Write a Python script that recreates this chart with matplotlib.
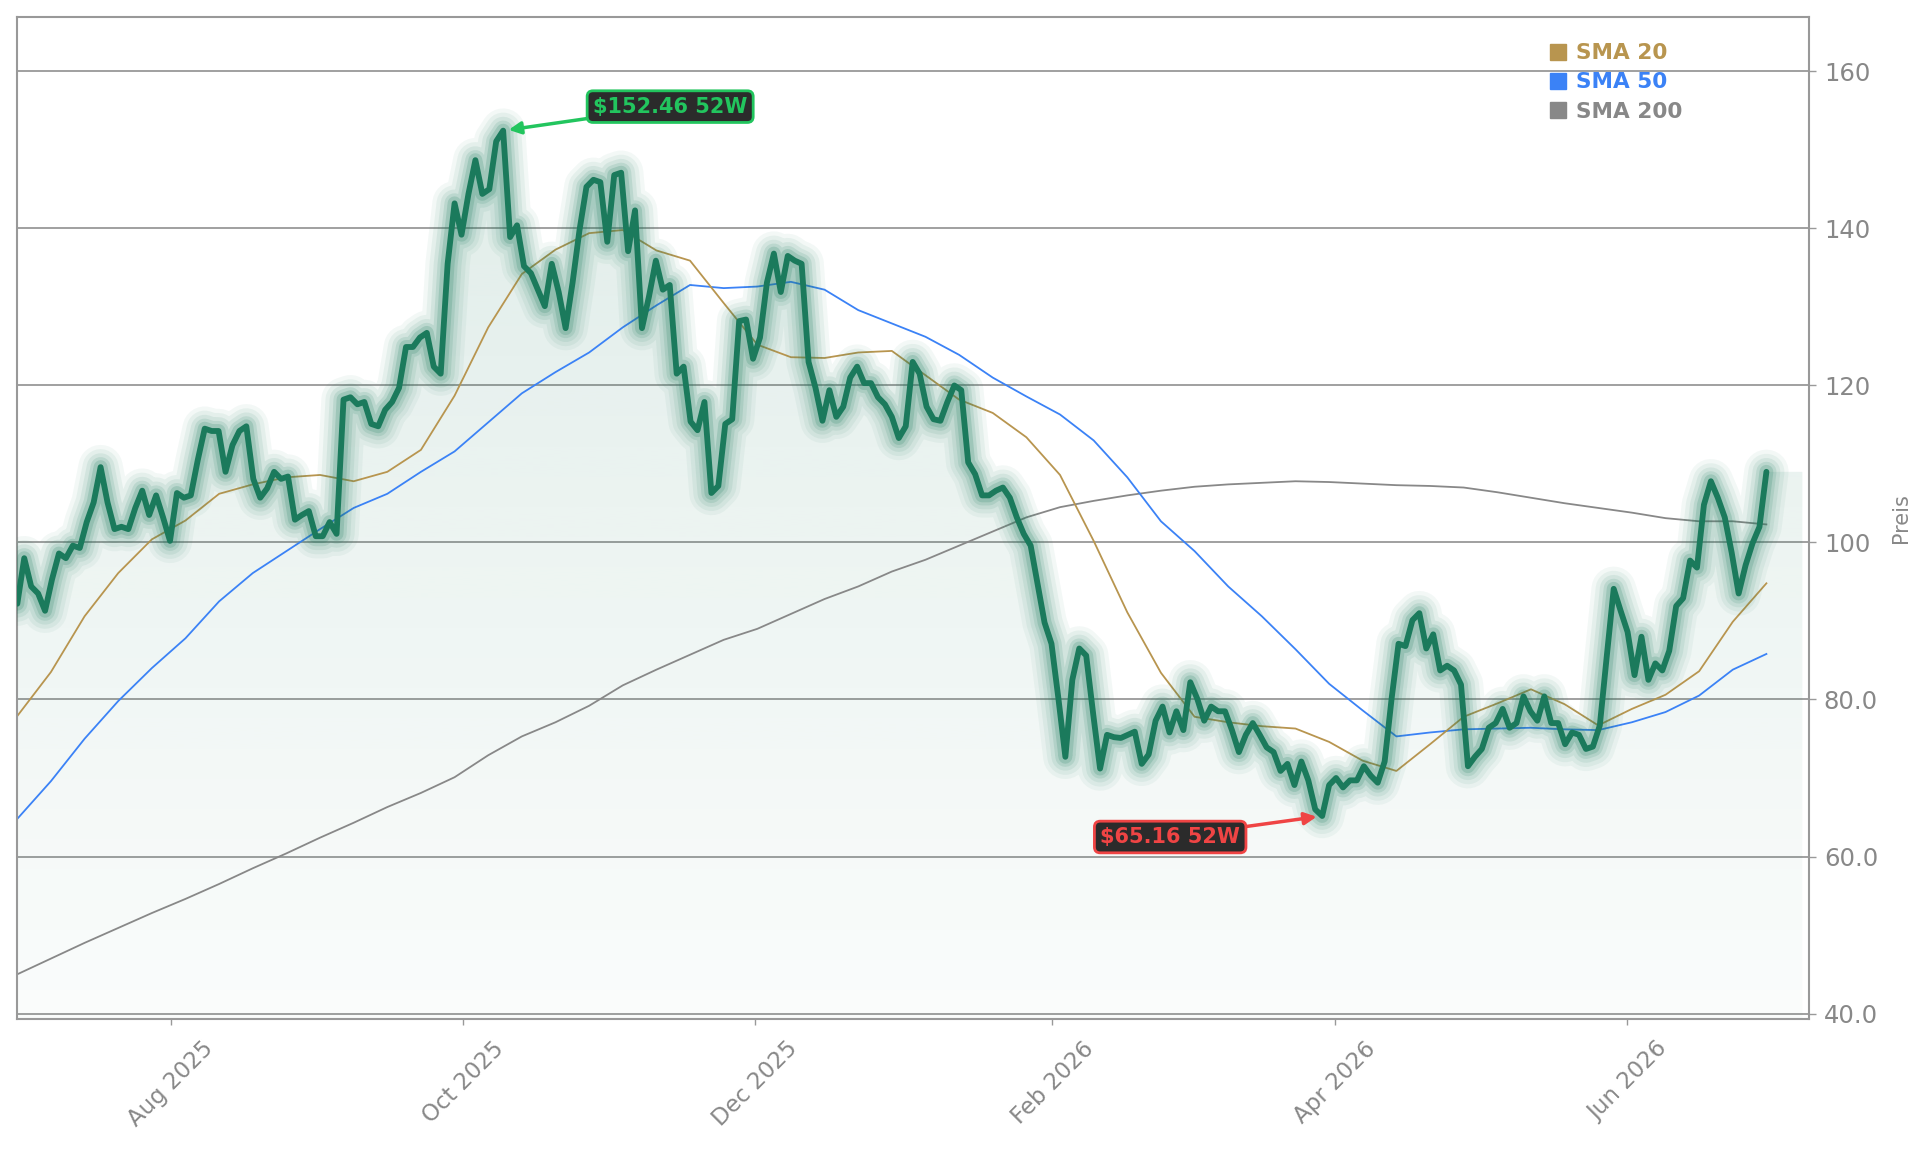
import numpy as np
import pandas as pd
import matplotlib
matplotlib.use("Agg")
import matplotlib.pyplot as plt
import matplotlib.dates as mdates
from matplotlib.lines import Line2D
from matplotlib.patches import Polygon
from matplotlib.colors import to_rgb

# ---------------- data ----------------
price = [
    92.2, 98.0, 94.4, 93.5, 91.3, 95.3, 98.6, 98.0, 99.6, 99.3, 102.6, 105.1, 109.6, 105.1,
    101.7, 102.0, 101.7, 104.4, 106.6, 103.5, 106.0, 103.2, 100.2, 106.3, 105.7, 106.0, 110.5,
    114.5, 114.2, 114.2, 109.0, 112.4, 114.2, 114.8, 108.1, 105.7, 106.9, 109.0, 108.1, 108.4,
    102.9, 103.5,
    104.0, 100.8, 100.8, 102.6, 101.1, 118.2, 118.5, 117.6, 117.9, 115.1, 114.8, 116.9, 117.9,
    119.7, 124.9, 124.9, 126.1, 126.7, 122.4, 121.5, 135.5, 143.2, 139.2, 144.4, 148.7, 144.4,
    145.0, 151.1, 152.46, 138.9, 140.4, 135.2, 134.3, 132.2, 130.1, 135.5, 131.9, 127.3, 133.1,
    139.8, 145.3, 146.2,
    145.9, 138.3, 146.8, 147.1, 137.1, 142.3, 127.3, 131.3, 135.9, 132.2, 132.8, 121.5, 122.4,
    115.4, 114.3, 117.9, 106.3, 107.2, 115.1, 115.7, 128.2, 128.4, 123.4, 126.1, 133.1, 136.8,
    131.9, 136.5, 135.9, 135.5, 123.0, 119.7, 115.5, 119.4, 116.0, 117.3, 121.0, 122.4, 120.3,
    120.3, 118.5, 117.6, 116.0,
    113.3, 114.8, 123.0, 121.5, 117.3, 115.7, 115.5, 117.9, 120.0, 119.4, 110.2, 108.7, 106.0,
    106.0, 106.6, 107.0, 105.7, 103.2, 101.1, 99.6, 94.7, 89.8, 87.1, 80.1, 72.7, 82.5, 86.5,
    85.6, 78.2, 71.2, 75.5, 75.2, 75.1, 75.5, 75.9, 71.8, 73.0, 77.3, 79.1, 75.8, 78.5, 76.1,
    82.2, 80.1, 77.3, 79.1, 78.5, 78.5, 76.1, 73.3, 75.5, 77.0, 75.5, 73.9, 73.3, 70.9, 71.8,
    69.1, 72.1, 69.7, 66.0, 65.16, 69.1, 70.0, 68.8, 69.7, 69.7, 71.5, 70.3, 69.4, 72.1, 80.1,
    87.1, 86.8, 90.1, 91.0, 86.5, 88.3, 83.7, 84.3, 83.7, 81.9, 71.5, 72.7, 73.7, 76.4, 77.0,
    78.8, 76.4, 77.0, 80.4, 78.5, 77.3, 80.4, 77.0, 77.0, 74.3, 75.8, 75.5, 73.7, 74.0, 76.7,
    85.5, 94.1, 91.3, 88.6, 83.1, 88.0, 82.5, 84.6, 83.7, 86.2, 91.9, 92.9, 97.7, 96.8, 104.8,
    107.8, 105.7, 103.2, 98.7, 93.5, 97.1, 99.9, 102.0, 109.0,
]
start_date = "2025-06-30"
end_date = "2026-06-30"

sma20 = [77.9, 83.5, 90.6, 96.1, 100.4, 102.8, 106.2, 107.4, 108.3, 108.6, 107.8, 109.0, 111.8,
         118.7, 127.4, 134.2, 137.3, 139.4, 139.8, 137.2, 135.9, 130.5, 125.2, 123.6, 123.5,
         124.2, 124.4, 121.3, 118.2, 116.5, 113.4, 108.6, 100.2, 91.1, 83.4, 77.8, 77.1, 76.6,
         76.3, 74.6, 72.2, 70.9, 74.3, 77.8, 79.5, 81.3, 79.4, 76.7, 78.8, 80.6, 83.6, 89.9, 94.8]
sma50 = [64.8, 69.6, 75.0, 79.8, 84.0, 87.8, 92.5, 96.1, 98.9, 101.7, 104.4, 106.2, 109.0,
         111.6, 115.3, 119.0, 121.7, 124.2, 127.4, 130.2, 132.8, 132.4, 132.6, 133.2, 132.2,
         129.6, 127.9, 126.2, 123.9, 121.0, 118.6, 116.3, 113.0, 108.3, 102.7, 98.9, 94.4, 90.6,
         86.4, 82.0, 78.6, 75.3, 75.8, 76.2, 76.3, 76.4, 76.2, 76.1, 77.1, 78.4, 80.5, 83.8, 85.8]
sma200 = [45.0, 47.0, 49.0, 50.9, 52.8, 54.6, 56.5, 58.5, 60.4, 62.4, 64.3, 66.3, 68.1, 70.1,
          72.9, 75.3, 77.1, 79.2, 81.8, 83.8, 85.7, 87.6, 89.0, 90.9, 92.8, 94.4, 96.3, 97.8,
          99.6, 101.4, 103.2, 104.5, 105.3, 106.0, 106.6, 107.1, 107.4, 107.6, 107.8, 107.7,
          107.5, 107.3, 107.2, 107.0, 106.4, 105.7, 105.0, 104.4, 103.8, 103.1, 102.7, 102.7, 102.3]

legend_labels = ["SMA 20", "SMA 50", "SMA 200"]
ytick_values = [40, 60, 80, 100, 120, 140, 160]
ytick_labels = ["40.0", "60.0", "80.0", "100", "120", "140", "160"]
xtick_dates = ["2025-08-01", "2025-10-01", "2025-12-01", "2026-02-01", "2026-04-01", "2026-06-01"]
xtick_labels = ["Aug 2025", "Oct 2025", "Dec 2025", "Feb 2026", "Apr 2026", "Jun 2026"]
high_label = "$152.46 52W"
low_label = "$65.16 52W"
y_label = "Preis"

# ---------------- style ----------------
GREEN = "#1b7a5c"
GOLD = "#b8954f"
BLUE = "#3b82f6"
GRAY = "#888888"
HI = "#22c55e"
LO = "#ef4444"
AXC = "#999999"

price_dates = pd.date_range(start_date, end_date, periods=len(price))
sma_dates = pd.date_range(start_date, end_date, periods=len(sma20))
xs = mdates.date2num(price_dates)
price_arr = np.array(price)

fig = plt.figure(figsize=(19.29, 11.51), dpi=100)
ax = fig.add_axes([0.00897, 0.1150, 0.9286, 0.8700])

ybot, ytop = 39.35, 166.9

# gradient fill under price
x_ext = np.append(xs, xs[-1] + 7.5)
y_ext = np.append(price_arr, price_arr[-1])
verts = [(x_ext[0], ybot)] + list(zip(x_ext, y_ext)) + [(x_ext[-1], ybot)]
poly = Polygon(verts, closed=True, facecolor="none", edgecolor="none")
ax.add_patch(poly)
n = 256
rgba = np.zeros((n, 1, 4))
rgba[..., :3] = to_rgb(GREEN)
rgba[..., 3] = np.linspace(0.02, 0.135, n).reshape(-1, 1)
im = ax.imshow(rgba, extent=[x_ext[0], x_ext[-1], ybot, price_arr.max()], origin="lower",
               aspect="auto", zorder=1, interpolation="bilinear")
im.set_clip_path(poly)

# SMA lines
ax.plot(sma_dates, sma200, color=GRAY, lw=1.3, zorder=2)
ax.plot(sma_dates, sma50, color=BLUE, lw=1.3, zorder=2)
ax.plot(sma_dates, sma20, color=GOLD, lw=1.3, zorder=2)

# glow + price line
for lw, a in [(32, 0.05), (26, 0.065), (20, 0.085), (14.5, 0.12), (10, 0.18)]:
    ax.plot(price_dates, price_arr, color=GREEN, lw=lw, alpha=a, zorder=3,
            solid_joinstyle="round", solid_capstyle="round")
ax.plot(price_dates, price_arr, color=GREEN, lw=4.2, zorder=4,
        solid_joinstyle="round", solid_capstyle="round")

# axes limits / ticks
ax.set_xlim(xs[0], xs[-1] + 8.8)
ax.set_ylim(ybot, ytop)
ax.yaxis.tick_right()
ax.yaxis.set_label_position("right")
ax.set_yticks(ytick_values)
ax.set_yticklabels(ytick_labels)
ax.set_xticks(mdates.date2num(pd.to_datetime(xtick_dates)))
ax.set_xticklabels(xtick_labels, rotation=45, ha="center")
ax.tick_params(axis="y", which="both", direction="out", length=5, width=1, color=AXC,
               labelcolor=GRAY, labelsize=17.5, pad=6, left=False, right=True)
ax.tick_params(axis="x", direction="out", length=4.3, width=1, color=AXC,
               labelcolor=GRAY, labelsize=16.5, pad=9)
ax.set_ylabel(y_label, color=GRAY, fontsize=15, labelpad=9)
ax.yaxis.grid(True, color=AXC, lw=1.3)
ax.xaxis.grid(False)
ax.set_axisbelow(True)
for s in ax.spines.values():
    s.set_color(AXC)
    s.set_linewidth(1.5)

# legend
handles = [Line2D([], [], marker="s", ls="none", color=c, markersize=12) for c in (GOLD, BLUE, GRAY)]
leg = ax.legend(handles, legend_labels, loc="upper left", bbox_to_anchor=(0.8555, 0.974),
                frameon=False, prop={"weight": "bold", "size": 15.6}, handletextpad=0.4,
                labelspacing=0.42, handlelength=0.8, borderpad=0, borderaxespad=0)
for t, c in zip(leg.get_texts(), (GOLD, BLUE, GRAY)):
    t.set_color(c)

# annotations
i_hi = int(np.argmax(price_arr))
i_lo = int(np.argmin(price_arr))
ax.annotate(high_label, xy=(xs[i_hi], price_arr[i_hi]), xytext=(167, 24),
            textcoords="offset pixels", ha="center", va="center", color=HI,
            fontsize=15, fontweight="bold", zorder=6,
            bbox=dict(boxstyle="round,pad=0.28", fc="#2b2b2b", ec=HI, lw=2),
            arrowprops=dict(arrowstyle="-|>", color=HI, lw=2.5, mutation_scale=18,
                            shrinkA=0, shrinkB=4))
ax.annotate(low_label, xy=(xs[i_lo], price_arr[i_lo]), xytext=(-152, -21),
            textcoords="offset pixels", ha="center", va="center", color=LO,
            fontsize=15, fontweight="bold", zorder=6,
            bbox=dict(boxstyle="round,pad=0.28", fc="#2b2b2b", ec=LO, lw=2),
            arrowprops=dict(arrowstyle="-|>", color=LO, lw=2.5, mutation_scale=18,
                            shrinkA=0, shrinkB=4))

fig.savefig("out.png", dpi=100, facecolor="white")
